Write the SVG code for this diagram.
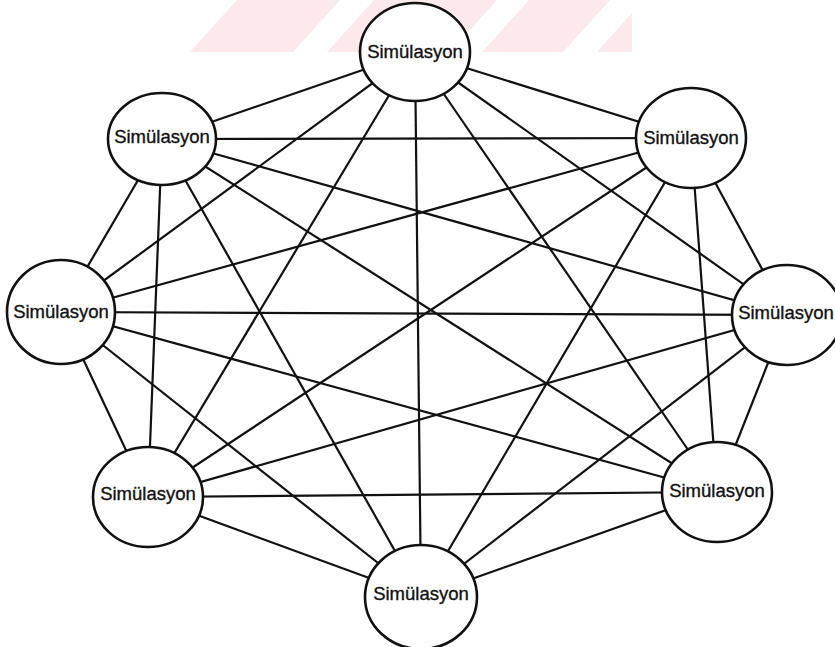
<svg xmlns="http://www.w3.org/2000/svg" width="835" height="647" viewBox="0 0 835 647">
<style>
.wm{fill:#fde8eb;stroke:none}
.edge{stroke:#111;stroke-width:2.2;fill:none}
.node ellipse{fill:#fff;stroke:#111;stroke-width:2.6}
.node text{font-family:"Liberation Sans",Arial,sans-serif;font-size:18.5px;fill:#111;stroke:#111;stroke-width:0.35;text-anchor:middle}
</style>
<rect width="835" height="647" fill="#fff"/>
<g id="watermark">
<polygon class="wm" points="190,52 293,52 340,0 237,0"/>
<polygon class="wm" points="327,52 450,52 497,0 374,0"/>
<polygon class="wm" points="482,52 563,52 610,0 529,0"/>
<polygon class="wm" points="597,52 632,52 632,13"/>
</g>
<g id="connectors">
<line class="edge" x1="415" y1="52" x2="691" y2="138"/>
<line class="edge" x1="415" y1="52" x2="787" y2="315"/>
<line class="edge" x1="415" y1="52" x2="717" y2="492"/>
<line class="edge" x1="415" y1="52" x2="421" y2="597"/>
<line class="edge" x1="415" y1="52" x2="148" y2="497"/>
<line class="edge" x1="415" y1="52" x2="61" y2="312"/>
<line class="edge" x1="415" y1="52" x2="162" y2="139"/>
<line class="edge" x1="691" y1="138" x2="787" y2="315"/>
<line class="edge" x1="691" y1="138" x2="717" y2="492"/>
<line class="edge" x1="691" y1="138" x2="421" y2="597"/>
<line class="edge" x1="691" y1="138" x2="148" y2="497"/>
<line class="edge" x1="691" y1="138" x2="61" y2="312"/>
<line class="edge" x1="691" y1="138" x2="162" y2="139"/>
<line class="edge" x1="787" y1="315" x2="717" y2="492"/>
<line class="edge" x1="787" y1="315" x2="421" y2="597"/>
<line class="edge" x1="787" y1="315" x2="148" y2="497"/>
<line class="edge" x1="787" y1="315" x2="61" y2="312"/>
<line class="edge" x1="787" y1="315" x2="162" y2="139"/>
<line class="edge" x1="717" y1="492" x2="421" y2="597"/>
<line class="edge" x1="717" y1="492" x2="148" y2="497"/>
<line class="edge" x1="717" y1="492" x2="61" y2="312"/>
<line class="edge" x1="717" y1="492" x2="162" y2="139"/>
<line class="edge" x1="421" y1="597" x2="148" y2="497"/>
<line class="edge" x1="421" y1="597" x2="61" y2="312"/>
<line class="edge" x1="421" y1="597" x2="162" y2="139"/>
<line class="edge" x1="148" y1="497" x2="61" y2="312"/>
<line class="edge" x1="148" y1="497" x2="162" y2="139"/>
<line class="edge" x1="61" y1="312" x2="162" y2="139"/>
</g>
<g id="node-top" class="node"><ellipse cx="415" cy="52" rx="55" ry="49"/><text x="415" y="58">Simülasyon</text></g>
<g id="node-upper-right" class="node"><ellipse cx="691" cy="138" rx="55" ry="50"/><text x="691" y="144">Simülasyon</text></g>
<g id="node-right" class="node"><ellipse cx="787" cy="315" rx="55" ry="50"/><text x="786" y="319">Simülasyon</text></g>
<g id="node-lower-right" class="node"><ellipse cx="717" cy="492" rx="55" ry="50"/><text x="717" y="497">Simülasyon</text></g>
<g id="node-bottom" class="node"><ellipse cx="421" cy="597" rx="56" ry="52"/><text x="421" y="600">Simülasyon</text></g>
<g id="node-lower-left" class="node"><ellipse cx="148" cy="497" rx="55" ry="50"/><text x="148" y="500">Simülasyon</text></g>
<g id="node-left" class="node"><ellipse cx="61" cy="312" rx="54" ry="52"/><text x="61" y="318">Simülasyon</text></g>
<g id="node-upper-left" class="node"><ellipse cx="162" cy="139" rx="54" ry="46"/><text x="162" y="143">Simülasyon</text></g>
</svg>
